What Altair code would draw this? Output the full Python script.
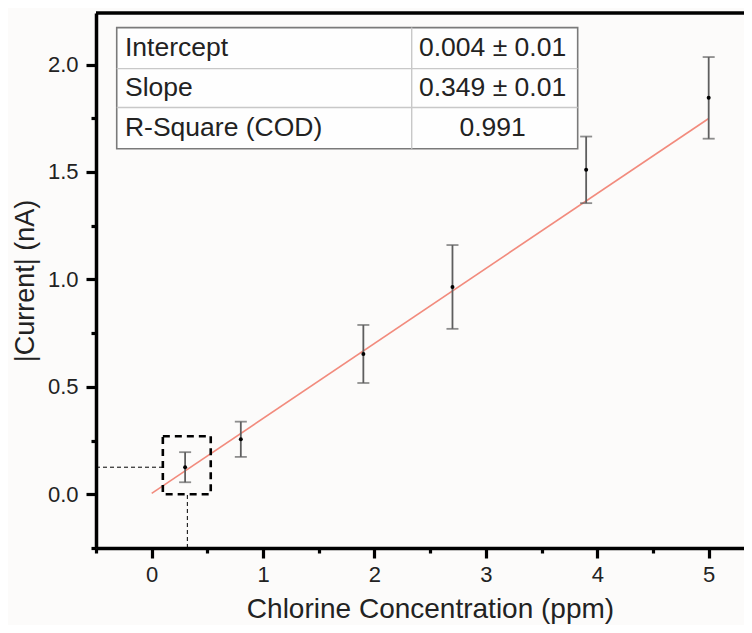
import altair as alt
import pandas as pd

# ---- data ----
conc = [0.3, 0.8, 1.9, 2.7, 3.9, 5.0]
current = [0.126, 0.256, 0.653, 0.965, 1.51, 1.845]
err = [0.07, 0.082, 0.135, 0.195, 0.155, 0.19]

intercept = 0.004
slope = 0.349
fit_x = [0.0, 5.0]

table_labels = ["Intercept", "Slope", "R-Square (COD)"]
table_values = ["0.004 \u00b1 0.01", "0.349 \u00b1 0.01", "0.991"]
table_rows_y = [2.079, 1.893, 1.706]

x_major = [0, 1, 2, 3, 4, 5]
x_minor = [-0.5, 0.5, 1.5, 2.5, 3.5, 4.5]
y_major = [0, 0.5, 1.0, 1.5, 2.0]
y_minor = [-0.25, 0.25, 0.75, 1.25, 1.75]

XMIN, XMAX = -0.5, 5.317
YMIN, YMAX = -0.25, 2.24
FONT = "Liberation Sans"

df = pd.DataFrame({"x": conc, "y": current, "err": err})
df["lo"] = df["y"] - df["err"]
df["hi"] = df["y"] + df["err"]

fit = pd.DataFrame({"x": fit_x, "y": [intercept + slope * v for v in fit_x]})

xs = alt.Scale(domain=[XMIN, XMAX], nice=False, zero=False)
ys = alt.Scale(domain=[YMIN, YMAX], nice=False, zero=False)

x_axis = alt.Axis(
    values=x_major, orient="bottom",
    title="Chlorine Concentration (ppm)",
    format=".0f",
    tickSize=10, tickWidth=3.2, tickColor="black", domainWidth=3.5, domainColor="black",
    labelFont=FONT, labelFontSize=22, labelColor="#222", labelPadding=6,
    titleFont=FONT, titleFontSize=28, titleFontWeight="normal", titleColor="#222", titlePadding=10,
    titleX=334,
    grid=False, labelFlush=False,
)
y_axis = alt.Axis(
    values=y_major, orient="left",
    title="|Current| (nA)",
    format=".1f",
    tickSize=10, tickWidth=3.2, tickColor="black", domainWidth=3.5, domainColor="black",
    labelFont=FONT, labelFontSize=22, labelColor="#222", labelPadding=8,
    titleFont=FONT, titleFontSize=27, titleFontWeight="normal", titleColor="#222", titlePadding=8,
    grid=False, labelFlush=False,
)
x_minor_axis = alt.Axis(
    values=x_minor, orient="bottom", title=None, labels=False, domain=False,
    tickSize=5, tickWidth=3.2, tickColor="black", grid=False,
)
y_minor_axis = alt.Axis(
    values=y_minor, orient="left", title=None, labels=False, domain=False,
    tickSize=5, tickWidth=3.2, tickColor="black", grid=False,
)

base = alt.Chart(df)

err_rule = base.mark_rule(color="#5e5e5e", strokeWidth=1.8).encode(
    x=alt.X("x:Q", scale=xs, axis=x_axis),
    y=alt.Y("lo:Q", scale=ys, axis=y_axis),
    y2="hi:Q",
)
cap_lo = base.mark_tick(color="#5e5e5e", orient="horizontal", size=12, thickness=1.8).encode(
    x=alt.X("x:Q", scale=xs), y=alt.Y("lo:Q", scale=ys)
)
cap_hi = base.mark_tick(color="#5e5e5e", orient="horizontal", size=12, thickness=1.8).encode(
    x=alt.X("x:Q", scale=xs), y=alt.Y("hi:Q", scale=ys)
)
pts = base.mark_circle(color="black", size=16, opacity=1).encode(
    x=alt.X("x:Q", scale=xs), y=alt.Y("y:Q", scale=ys)
)
fit_line = alt.Chart(fit).mark_line(color="#f28b7d", strokeWidth=1.6).encode(
    x=alt.X("x:Q", scale=xs), y=alt.Y("y:Q", scale=ys)
)

# highlight box around the first point and its guide lines
box = alt.Chart(pd.DataFrame({"x": [0.1], "x2": [0.53], "y": [0.0], "y2": [0.27]})).mark_rect(
    fill=None, stroke="black", strokeWidth=2.6, strokeDash=[7, 5]
).encode(
    x=alt.X("x:Q", scale=xs), x2="x2:Q", y=alt.Y("y:Q", scale=ys), y2="y2:Q"
)
h_guide = alt.Chart(pd.DataFrame({"x": [XMIN], "x2": [0.1], "y": [current[0]]})).mark_rule(
    color="black", strokeWidth=1, strokeDash=[4, 3]
).encode(x=alt.X("x:Q", scale=xs), x2="x2:Q", y=alt.Y("y:Q", scale=ys))
v_guide = alt.Chart(pd.DataFrame({"x": [conc[0] + 0.02], "y": [YMIN], "y2": [0.0]})).mark_rule(
    color="black", strokeWidth=1, strokeDash=[4, 3]
).encode(x=alt.X("x:Q", scale=xs), y=alt.Y("y:Q", scale=ys), y2="y2:Q")

# top frame line
top_line = alt.Chart(pd.DataFrame({"x": [XMIN], "x2": [XMAX], "y": [YMAX]})).mark_rule(
    color="black", strokeWidth=3.5
).encode(x=alt.X("x:Q", scale=xs), x2="x2:Q", y=alt.Y("y:Q", scale=ys))

# statistics table
T_L, T_M, T_R = -0.314, 2.334, 3.824
T_TOP, T_R1, T_R2, T_BOT = 2.172, 1.981, 1.80, 1.608
tbl_bg = alt.Chart(pd.DataFrame({"x": [T_L], "x2": [T_R], "y": [T_BOT], "y2": [T_TOP]})).mark_rect(
    fill="#fefefe", stroke="#7a7a7a", strokeWidth=1.6
).encode(x=alt.X("x:Q", scale=xs), x2="x2:Q", y=alt.Y("y:Q", scale=ys), y2="y2:Q")
tbl_hlines = alt.Chart(pd.DataFrame({"x": [T_L, T_L], "x2": [T_R, T_R], "y": [T_R1, T_R2]})).mark_rule(
    color="#c8c8c8", strokeWidth=1.4
).encode(x=alt.X("x:Q", scale=xs), x2="x2:Q", y=alt.Y("y:Q", scale=ys))
tbl_vline = alt.Chart(pd.DataFrame({"x": [T_M], "y": [T_BOT], "y2": [T_TOP]})).mark_rule(
    color="#c8c8c8", strokeWidth=1.4
).encode(x=alt.X("x:Q", scale=xs), y=alt.Y("y:Q", scale=ys), y2="y2:Q")

tdf = pd.DataFrame({"label": table_labels, "value": table_values, "y": table_rows_y,
                    "xl": [-0.24] * 3, "xv": [3.06] * 3})
tbl_lab = alt.Chart(tdf).mark_text(align="left", baseline="middle", font=FONT, fontSize=26.5, color="#222").encode(
    x=alt.X("xl:Q", scale=xs), y=alt.Y("y:Q", scale=ys), text="label:N"
)
tbl_val = alt.Chart(tdf).mark_text(align="center", baseline="middle", font=FONT, fontSize=26.5, color="#222").encode(
    x=alt.X("xv:Q", scale=xs), y=alt.Y("y:Q", scale=ys), text="value:N"
)

main = alt.layer(
    tbl_bg, tbl_hlines, tbl_vline, tbl_lab, tbl_val,
    fit_line, err_rule, cap_lo, cap_hi, pts,
    box, h_guide, v_guide, top_line,
)

# invisible layer carrying the minor-tick axes on an identical scale
minor = base.mark_point(opacity=0).encode(
    x=alt.X("x:Q", scale=alt.Scale(domain=[XMIN, XMAX], nice=False, zero=False), axis=x_minor_axis),
    y=alt.Y("y:Q", scale=alt.Scale(domain=[YMIN, YMAX], nice=False, zero=False), axis=y_minor_axis),
)

chart = alt.layer(main, minor).resolve_scale(
    x="independent", y="independent"
).properties(
    width=648, height=535,
    autosize=alt.AutoSizeParams(type="none"),
    padding={"left": 88, "top": 5, "right": 0, "bottom": 77},
    background="#fcfbfa",
).configure_view(stroke=None)

chart.save("out.html", embed_options={"renderer": "svg", "actions": False})
